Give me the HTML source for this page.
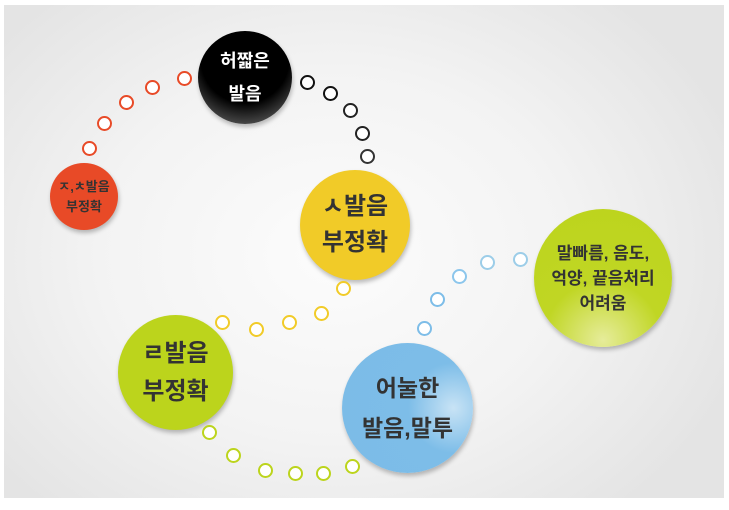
<!DOCTYPE html>
<html><head><meta charset="utf-8"><style>
html,body{margin:0;padding:0;width:729px;height:510px;background:#fff;overflow:hidden}
.p{position:absolute;left:4px;top:5px;width:720px;height:493px;background:radial-gradient(ellipse 430px 340px at 330px 250px,#fcfcfc 0%,#f3f3f3 55%,#e4e4e4 100%)}
.c{position:absolute;border-radius:50%;display:flex;align-items:center;justify-content:center;text-align:center;font-family:"Liberation Sans","Noto Sans CJK KR","NanumGothic",sans-serif;color:#333;font-weight:bold;box-shadow:1px 3px 4px rgba(0,0,0,.25)}
.d{position:absolute;width:11px;height:11px;border-radius:50%;background:#fff;border:2.5px solid}
</style></head><body>
<div class="p"></div>
<div class="c" style="left:198px;top:31px;width:94px;height:93px;background:radial-gradient(circle at 50% 30%,#000 55%,#444 80%,#bbb 100%);color:#fff;font-size:18px;line-height:33px">허짧은<br>발음</div>
<div class="c" style="left:50px;top:163px;width:68px;height:67px;background:#e84a27;font-size:13px;line-height:20px;color:#333">ㅈ,ㅊ발음<br>부정확</div>
<div class="c" style="left:300px;top:170px;width:110px;height:110px;background:#f1cb28;font-size:24px;line-height:36px">ㅅ발음<br>부정확</div>
<div class="c" style="left:118px;top:315px;width:115px;height:115px;background:#bcd41c;font-size:24px;line-height:38px">ㄹ발음<br>부정확</div>
<div class="c" style="left:342px;top:343px;width:131px;height:130px;background:radial-gradient(circle at 85% 50%,#c8e3f5 0%,#7dbde8 35%,#7cbce7 100%);font-size:23px;line-height:40px">어눌한<br>발음,말투</div>
<div class="c" style="left:534px;top:209px;width:138px;height:138px;background:radial-gradient(circle at 50% 95%,#e6ec9a 0%,#c0d624 40%,#bcd41c 100%);font-size:17px;line-height:25px">말빠름, 음도,<br>억양, 끝음처리<br>어려움</div>
<div class="d" style="left:82px;top:141px;border-color:#e84a27"></div>
<div class="d" style="left:97px;top:116px;border-color:#e84a27"></div>
<div class="d" style="left:119px;top:95px;border-color:#e84a27"></div>
<div class="d" style="left:145px;top:80px;border-color:#e84a27"></div>
<div class="d" style="left:177px;top:71px;border-color:#e84a27"></div>
<div class="d" style="left:300px;top:75px;border-color:#111"></div>
<div class="d" style="left:323px;top:86px;border-color:#111"></div>
<div class="d" style="left:343px;top:103px;border-color:#222"></div>
<div class="d" style="left:355px;top:126px;border-color:#222"></div>
<div class="d" style="left:360px;top:149px;border-color:#333"></div>
<div class="d" style="left:336px;top:281px;border-color:#f1cb28"></div>
<div class="d" style="left:314px;top:306px;border-color:#f1cb28"></div>
<div class="d" style="left:282px;top:315px;border-color:#f1cb28"></div>
<div class="d" style="left:249px;top:322px;border-color:#f1cb28"></div>
<div class="d" style="left:215px;top:315px;border-color:#f1cb28"></div>
<div class="d" style="left:202px;top:425px;border-color:#bcd41c"></div>
<div class="d" style="left:226px;top:448px;border-color:#bcd41c"></div>
<div class="d" style="left:258px;top:463px;border-color:#bcd41c"></div>
<div class="d" style="left:288px;top:466px;border-color:#bcd41c"></div>
<div class="d" style="left:316px;top:466px;border-color:#bcd41c"></div>
<div class="d" style="left:345px;top:459px;border-color:#bcd41c"></div>
<div class="d" style="left:417px;top:321px;border-color:#7dbde8"></div>
<div class="d" style="left:430px;top:292px;border-color:#7dbde8"></div>
<div class="d" style="left:452px;top:269px;border-color:#8cc6ec"></div>
<div class="d" style="left:480px;top:255px;border-color:#9ccde8"></div>
<div class="d" style="left:513px;top:252px;border-color:#9ccde8"></div>
</body></html>
